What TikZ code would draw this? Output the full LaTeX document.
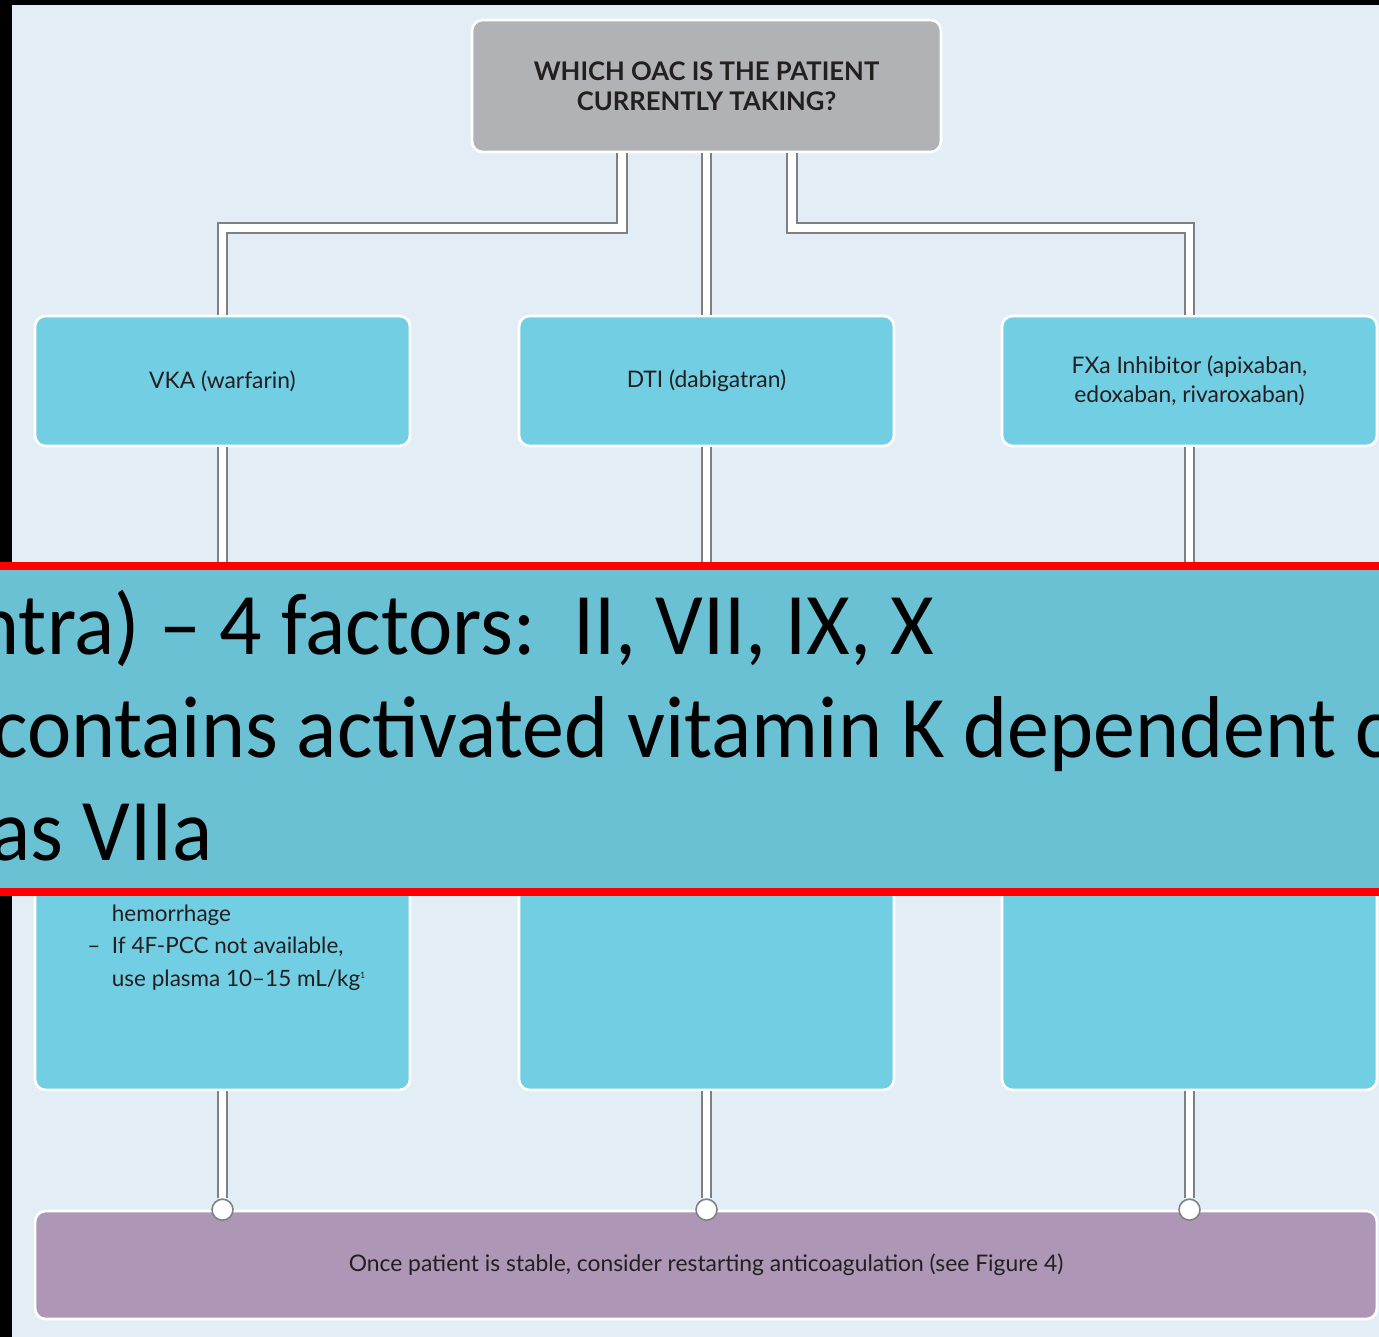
\documentclass[tikz,border=0pt]{standalone}
\usepackage{fontspec}
\setmainfont{Lato}
\newfontfamily\slidefont[FakeStretch=0.955]{Carlito}
\usetikzlibrary{positioning, calc}
\definecolor{pagebg}{HTML}{E3EDF6}
\definecolor{askgray}{HTML}{B0B2B5}
\definecolor{drugcyan}{HTML}{72CFE3}
\definecolor{restartpurple}{HTML}{AE96B6}
\definecolor{slideteal}{HTML}{6AC1D4}
\definecolor{pipegray}{HTML}{7E8184}
\definecolor{inkdark}{HTML}{231F20}
\tikzset{
question/.style={draw=white, line width=1.5pt, fill=askgray, rounded corners=6pt, minimum width=9.38cm, minimum height=2.64cm, align=center, text=inkdark, font=\fontsize{14.6}{17}\selectfont\bfseries},
drug/.style={draw=white, line width=1.5pt, fill=drugcyan, rounded corners=6pt, minimum width=7.5cm, minimum height=2.6cm, align=center, text=inkdark, font=\fontsize{13}{16.5}\selectfont},
dose/.style={drug, minimum height=10cm},
restart/.style={draw=white, line width=1.5pt, fill=restartpurple, rounded corners=6pt, minimum width=26.84cm, minimum height=2.16cm, text=inkdark, font=\fontsize{13}{15}\selectfont},
pipe/.style={draw=pipegray, line width=0.9pt, double=white, double distance=4.5pt},
joint/.style={draw=pipegray, line width=0.9pt, fill=white, circle, inner sep=0pt, minimum size=0.42cm},
slideline/.style={inner sep=0pt, font=\slidefont\fontsize{50}{58}\selectfont},
}

\begin{document}
\begin{tikzpicture}[x=0.02cm, y=-0.02cm]
    % page and dark frame
    \fill[black] (0,0) rectangle (1379,1337);
    \fill[pagebg] (12,5) rectangle (1379,1337);
    \useasboundingbox (0,0) rectangle (1379,1337);

    % question
    \node[question] (oac) at (706.5,86) {WHICH OAC IS THE PATIENT\\CURRENTLY TAKING?};

    % drug classes
    \node[drug] (vka) at (222.5,381) {VKA (warfarin)};
    \node[drug] (dti) at (706.5,381) {DTI (dabigatran)};
    \node[drug] (fxa) at (1189.5,381) {FXa Inhibitor (apixaban,\\edoxaban, rivaroxaban)};

    % reversal boxes
    \node[dose] (vkadose) at (222.5,840) {};
    \node[dose] (dtidose) at (706.5,840) {};
    \node[dose] (fxadose) at (1189.5,840) {};
    \node[anchor=north west, inner sep=0pt, text=inkdark, font=\fontsize{12.8}{18.5}\selectfont, align=left] (vkanote) at (87,898)
        {\begin{tabular}{@{}l@{\ \ }l@{}}
         & hemorrhage\\
        – & If 4F-PCC not available,\\
         & use plasma 10–15 mL/kg\textsuperscript{\tiny 1}
        \end{tabular}};

    % restart
    \node[restart] (again) at (706,1265) {Once patient is stable, consider restarting anticoagulation (see Figure 4)};

    % pipes from the question
    \coordinate (kvka) at (222.5,228);
    \coordinate (kfxa) at (1189.5,228);
    \draw[pipe] ([xshift=-1.69cm]oac.south) |- (kvka) -- (vka.north);
    \draw[pipe] (oac.south) -- (dti.north);
    \draw[pipe] ([xshift=1.71cm]oac.south) |- (kfxa) -- (fxa.north);

    % pipes down
    \draw[pipe] (vka.south) -- (vkadose.north);
    \draw[pipe] (dti.south) -- (dtidose.north);
    \draw[pipe] (fxa.south) -- (fxadose.north);

    % joints on the restart box
    \node[joint] (jvka) at (vkadose.south |- again.north) {};
    \node[joint] (jdti) at (dtidose.south |- again.north) {};
    \node[joint] (jfxa) at (fxadose.south |- again.north) {};
    \draw[pipe] (vkadose.south) -- (jvka.north);
    \draw[pipe] (dtidose.south) -- (jdti.north);
    \draw[pipe] (fxadose.south) -- (jfxa.north);

    % slide strip on top
    \fill[slideteal] (0,562) rectangle (1379,896);
    \draw[red, line width=4.5pt] (0,566) -- (1379,566);
    \draw[red, line width=4.5pt] (0,892) -- (1379,892);
    \begin{scope}
        \clip (0,570) rectangle (1379,888);
        \node[slideline, anchor=base east] (sone) at (934,655) {ntra) – 4 factors:\ \ II, VII, IX, X};
        \node[slideline, anchor=base west] (stwo) at (-8,757) {contains activated vitamin K dependent c};
        \node[slideline, anchor=base east] (sthree) at (213,860) {as VIIa};
    \end{scope}
\end{tikzpicture}
\end{document}
